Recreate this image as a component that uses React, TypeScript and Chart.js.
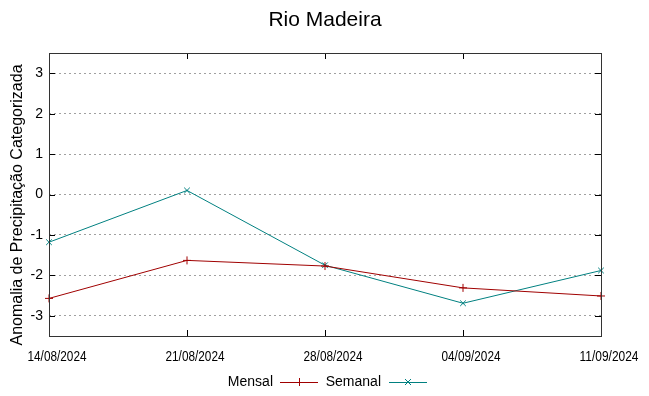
import React, { useEffect, useRef } from "react";
import { Chart, registerables } from "chart.js";

Chart.register(...registerables);

const categories = ["14/08/2024", "21/08/2024", "28/08/2024", "04/09/2024", "11/09/2024"];
const mensal = [-2.57, -1.63, -1.77, -2.31, -2.51];
const semanal = [-1.18, 0.1, -1.75, -2.69, -1.88];
const yTicks = [-3, -2, -1, 0, 1, 2, 3];
const titleText = "Rio Madeira";
const yTitle = "Anomalia de Precipitação Categorizada";
const seriesNames = ["Mensal", "Semanal"];

const RED = "#a00000";
const TEAL = "#008080";

const decorPlugin = {
  id: "decor",
  beforeDatasetsDraw(chart: any) {
    const { ctx, chartArea: a, scales } = chart;
    ctx.save();
    ctx.strokeStyle = "#000";
    ctx.lineWidth = 1;
    const x = scales.x;
    const y = scales.y;
    ctx.beginPath();
    categories.forEach((_, i) => {
      const px = Math.round(x.getPixelForValue(i)) + 0.5;
      ctx.moveTo(px, a.bottom);
      ctx.lineTo(px, a.bottom - 6);
      ctx.moveTo(px, a.top);
      ctx.lineTo(px, a.top + 6);
    });
    yTicks.forEach((v) => {
      const py = Math.round(y.getPixelForValue(v)) + 0.5;
      ctx.moveTo(a.left, py);
      ctx.lineTo(a.left + 6, py);
      ctx.moveTo(a.right, py);
      ctx.lineTo(a.right - 6, py);
    });
    ctx.stroke();
    ctx.restore();
  },
  afterDraw(chart: any) {
    const { ctx, chartArea: a, scales } = chart;
    const x = scales.x;
    const y = scales.y;
    ctx.save();
    ctx.strokeStyle = "#333";
    ctx.lineWidth = 1;
    ctx.strokeRect(Math.round(a.left) + 0.5, Math.round(a.top) + 0.5, Math.round(a.right - a.left), Math.round(a.bottom - a.top));
    // title
    ctx.fillStyle = "#000";
    ctx.font = "21px 'Liberation Sans', Arial, sans-serif";
    ctx.textAlign = "center";
    ctx.textBaseline = "middle";
    ctx.fillText(titleText, 325, 20);
    // y tick labels
    ctx.font = "14px 'Liberation Sans', Arial, sans-serif";
    ctx.textAlign = "right";
    yTicks.forEach((v) => {
      ctx.fillText(String(v), a.left - 6, y.getPixelForValue(v));
    });
    // x tick labels (condensed)
    ctx.font = "14px 'Liberation Sans', Arial, sans-serif";
    ctx.textAlign = "center";
    categories.forEach((c, i) => {
      const w = ctx.measureText(c).width;
      const sx = 59 / w;
      ctx.save();
      ctx.translate(x.getPixelForValue(i) + 8, 357);
      ctx.scale(sx, 1);
      ctx.fillText(c, 0, 0);
      ctx.restore();
    });
    // y title
    ctx.save();
    ctx.translate(18, 205);
    ctx.rotate(-Math.PI / 2);
    ctx.font = "16px 'Liberation Sans', Arial, sans-serif";
    ctx.textAlign = "center";
    ctx.fillText(yTitle, 0, 0);
    ctx.restore();
    // legend
    const ly = 382;
    const items = [
      { name: seriesNames[0], textRight: 273, x0: 280, x1: 318, color: RED, cross: false },
      { name: seriesNames[1], textRight: 381, x0: 389, x1: 427, color: TEAL, cross: true },
    ];
    ctx.font = "14px 'Liberation Sans', Arial, sans-serif";
    ctx.textAlign = "right";
    items.forEach((it) => {
      ctx.fillStyle = "#000";
      ctx.fillText(it.name, it.textRight, ly);
      ctx.strokeStyle = it.color;
      ctx.lineWidth = 1;
      ctx.beginPath();
      ctx.moveTo(it.x0, ly + 0.5);
      ctx.lineTo(it.x1, ly + 0.5);
      const cx = (it.x0 + it.x1) / 2;
      if (it.cross) {
        ctx.moveTo(cx - 3, ly - 3);
        ctx.lineTo(cx + 3, ly + 3);
        ctx.moveTo(cx - 3, ly + 3);
        ctx.lineTo(cx + 3, ly - 3);
      } else {
        ctx.moveTo(cx + 0.5, ly - 4);
        ctx.lineTo(cx + 0.5, ly + 4);
      }
      ctx.stroke();
    });
    ctx.restore();
  },
};

export default function App() {
  const ref = useRef<HTMLCanvasElement | null>(null);
  useEffect(() => {
    if (!ref.current) return;
    const chart = new Chart(ref.current, {
      type: "line",
      data: {
        labels: categories,
        datasets: [
          {
            label: seriesNames[0],
            data: mensal,
            borderColor: RED,
            backgroundColor: RED,
            borderWidth: 1,
            pointStyle: "cross",
            pointRadius: 4,
            pointBorderWidth: 1,
            tension: 0,
          },
          {
            label: seriesNames[1],
            data: semanal,
            borderColor: TEAL,
            backgroundColor: TEAL,
            borderWidth: 1,
            pointStyle: "crossRot",
            pointRadius: 4,
            pointBorderWidth: 1,
            tension: 0,
          },
        ],
      },
      options: {
        animation: false,
        responsive: false,
        devicePixelRatio: 1,
        layout: { padding: { left: 49, right: 48, top: 53, bottom: 60 } },
        plugins: { legend: { display: false }, title: { display: false }, tooltip: { enabled: false } },
        scales: {
          x: {
            type: "category",
            offset: false,
            grid: { display: false, drawTicks: false },
            border: { display: false },
            ticks: { display: false },
          },
          y: {
            min: -3.5,
            max: 3.5,
            afterBuildTicks: (axis: any) => {
              axis.ticks = yTicks.map((v) => ({ value: v }));
            },
            grid: { color: "#a0a0a0", drawTicks: false, lineWidth: 1 },
            border: { display: false, dash: [2, 3] },
            ticks: { display: false },
          },
        },
      },
      plugins: [decorPlugin],
    });
    return () => chart.destroy();
  }, []);
  return (
    <div style={{ position: "fixed", left: 0, top: 0, width: 649, height: 396, background: "#fff" }}>
      <canvas ref={ref} width={649} height={396} style={{ display: "block" }} />
    </div>
  );
}
